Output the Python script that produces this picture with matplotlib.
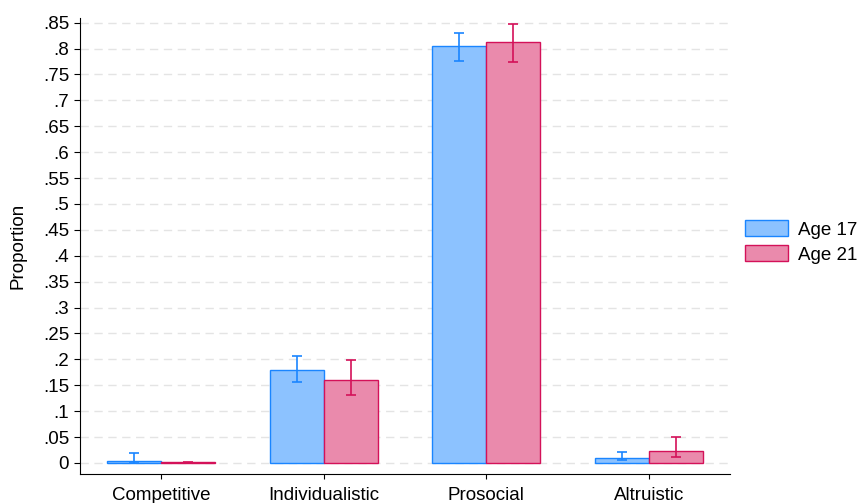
import matplotlib
matplotlib.use("Agg")
import matplotlib.pyplot as plt
import numpy as np

plt.rcParams['font.family'] = ['Liberation Sans', 'DejaVu Sans']

categories = ["Competitive", "Individualistic", "Prosocial", "Altruistic"]
series_names = ["Age 17", "Age 21"]
age17 = [0.004, 0.179, 0.804, 0.010]
age17_lo = [0.000, 0.156, 0.776, 0.006]
age17_hi = [0.020, 0.207, 0.830, 0.021]
age21 = [0.001, 0.161, 0.813, 0.023]
age21_lo = [0.000, 0.132, 0.775, 0.012]
age21_hi = [0.002, 0.198, 0.848, 0.050]
yticks = [0, .05, .1, .15, .2, .25, .3, .35, .4, .45, .5, .55, .6, .65, .7, .75, .8, .85]
ytick_labels = ["0", ".05", ".1", ".15", ".2", ".25", ".3", ".35", ".4", ".45", ".5",
                ".55", ".6", ".65", ".7", ".75", ".8", ".85"]

fills = ["#8CC2FF", "#EA8AAC"]
edges = ["#1A85FF", "#D41159"]

fig = plt.figure(figsize=(8.61, 5.03), dpi=100)
ax = fig.add_axes([80/861, 1-474/503, 650/861, (474-18)/503])

x = np.arange(1, len(categories) + 1)
w = 1/3
fs = 13.5
for i, (vals, lo, hi) in enumerate([(age17, age17_lo, age17_hi), (age21, age21_lo, age21_hi)]):
    pos = x + (i - 0.5) * w
    vals = np.array(vals); lo = np.array(lo); hi = np.array(hi)
    ax.bar(pos, vals, width=w, color=fills[i], edgecolor=edges[i], linewidth=1.0,
           label=series_names[i], zorder=2)
    ax.errorbar(pos, vals, yerr=[vals - lo, hi - vals], fmt='none', ecolor=edges[i],
                elinewidth=1.2, capsize=3.5, capthick=1.2, zorder=3)

ax.set_xlim(0.5, 4.5)
ax.set_ylim(-0.0213, 0.859)
ax.set_xticks(x)
ax.set_xticklabels(categories, fontsize=fs)
ax.set_yticks(yticks)
ax.set_yticklabels(ytick_labels, fontsize=fs)
ax.tick_params(axis='y', length=4.3, width=0.8, pad=3.5, colors='black')
ax.tick_params(axis='x', length=3.8, width=0.8, pad=5.5, colors='black')
ax.set_ylabel("Proportion", fontsize=fs, labelpad=12)
ax.yaxis.grid(True, linestyle=(0, (6, 4)), color='#E4E4E4', linewidth=1.0, zorder=0)
ax.set_axisbelow(True)
for s in ['top', 'right']:
    ax.spines[s].set_visible(False)
for s in ['left', 'bottom']:
    ax.spines[s].set_linewidth(0.8)
    ax.spines[s].set_color('black')

fig.legend(loc='center left', bbox_to_anchor=(745/861, 1-242/503), frameon=False,
           fontsize=fs, handlelength=2.3, handleheight=0.95, handletextpad=0.5,
           labelspacing=0.35, borderpad=0, borderaxespad=0)

fig.savefig("out.png", dpi=100)
